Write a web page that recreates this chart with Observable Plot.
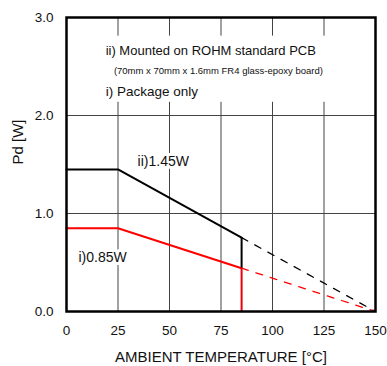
<!DOCTYPE html>
<html>
<head>
<meta charset="utf-8">
<script src="https://cdn.jsdelivr.net/npm/d3@7"></script>
<script src="https://cdn.jsdelivr.net/npm/@observablehq/plot@0.6"></script>
<style>
  html, body { margin: 0; padding: 0; background: #fff; }
  #chart svg { display: block; }
</style>
</head>
<body>
<div id="chart"></div>
<script>
// ---- data ----
const xTicks = [0, 25, 50, 75, 100, 125, 150];
const yTicks = [0, 1, 2, 3];
const xGrid = [25, 50, 75, 100, 125];
const yGrid = [1, 2];

const tempSolid = [0, 25, 85];
const pcbSolid = [1.45, 1.45, 0.754];   // ii) ROHM standard PCB
const pkgSolid = [0.85, 0.85, 0.442];   // i) package only
const tempDash = [85, 150];
const pcbDash = [0.754, 0];
const pkgDash = [0.442, 0];

const noteText = [
  "ii) Mounted on ROHM standard PCB",
  "(70mm x 70mm x 1.6mm FR4 glass-epoxy board)",
  "i) Package only"
];
const noteX = [19, 23, 19];
const noteY = [2.66, 2.45, 2.245];
const noteSize = [13, 9.5, 13.5];

const labelText = ["ii)1.45W", "i)0.85W"];
const labelX = [34.5, 5.8];
const labelY = [1.53, 0.55];

const xTitle = "AMBIENT TEMPERATURE [°C]";
const yTitle = "Pd [W]";

// ---- tables ----
const solidPcb = tempSolid.map((t, i) => ({t, v: pcbSolid[i]}));
const solidPkg = tempSolid.map((t, i) => ({t, v: pkgSolid[i]}));
const dashPcb = tempDash.map((t, i) => ({t, v: pcbDash[i]}));
const dashPkg = tempDash.map((t, i) => ({t, v: pkgDash[i]}));
const notes = noteText.map((s, i) => ({s, x: noteX[i], y: noteY[i], size: noteSize[i]}));
const labels = labelText.map((s, i) => ({s, x: labelX[i], y: labelY[i]}));
const noteBox = [{
  x1: xGrid[0] - 12.5, x2: xGrid[xGrid.length - 1] + 12.5,
  y1: d3.min(noteY) - 0.11, y2: d3.max(noteY) + 0.15
}];
const dropT = tempSolid[tempSolid.length - 1];
const pcbEnd = pcbSolid[pcbSolid.length - 1];
const pkgEnd = pkgSolid[pkgSolid.length - 1];

const font = "'Liberation Sans', Arial, sans-serif";

const chart = Plot.plot({
  width: 387,
  height: 366,
  marginLeft: 66,
  marginRight: 12,
  marginTop: 17,
  marginBottom: 55,
  style: {fontFamily: font, fontSize: "13.5px", color: "#111", background: "#fff"},
  x: {domain: [0, 150], ticks: xTicks, tickSize: 0, tickPadding: 14, label: null},
  y: {domain: [0, 3], ticks: yTicks, tickSize: 0, tickPadding: 13, tickFormat: d => d.toFixed(1), label: null},
  marks: [
    Plot.ruleX(xGrid, {stroke: "#444", strokeWidth: 1}),
    Plot.ruleY(yGrid, {stroke: "#444", strokeWidth: 1}),
    Plot.rect(noteBox, {x1: "x1", x2: "x2", y1: "y1", y2: "y2", fill: "white"}),
    Plot.text(notes, {x: "x", y: "y", text: "s", textAnchor: "start", lineAnchor: "middle",
      fontSize: d => d.size, fill: "#111"}),
    // dashed extensions
    Plot.line(dashPcb, {x: "t", y: "v", stroke: "black", strokeWidth: 1.3, strokeDasharray: "7,8"}),
    Plot.line(dashPkg, {x: "t", y: "v", stroke: "#ff0000", strokeWidth: 1.3, strokeDasharray: "7,8"}),
    // solid curves
    Plot.line(solidPcb, {x: "t", y: "v", stroke: "black", strokeWidth: 2}),
    Plot.line(solidPkg, {x: "t", y: "v", stroke: "#ff0000", strokeWidth: 2}),
    Plot.ruleX([dropT], {y1: pkgEnd, y2: pcbEnd, stroke: "black", strokeWidth: 2}),
    Plot.ruleX([dropT], {y1: 0, y2: pkgEnd, stroke: "#e8000b", strokeWidth: 2}),
    Plot.text(labels, {x: "x", y: "y", text: "s", textAnchor: "start", lineAnchor: "middle",
      fontSize: 14, fill: "#111", stroke: "white", strokeWidth: 6, paintOrder: "stroke"}),
    Plot.text([xTitle], {frameAnchor: "bottom", dy: 46, lineAnchor: "middle", fontSize: 15, fill: "#111"}),
    Plot.text([yTitle], {frameAnchor: "left", dx: -48, rotate: -90, lineAnchor: "middle", fontSize: 15, fill: "#111"}),
    Plot.frame({stroke: "black", strokeWidth: 2.5})
  ]
});
document.getElementById("chart").append(chart);
</script>
</body>
</html>
